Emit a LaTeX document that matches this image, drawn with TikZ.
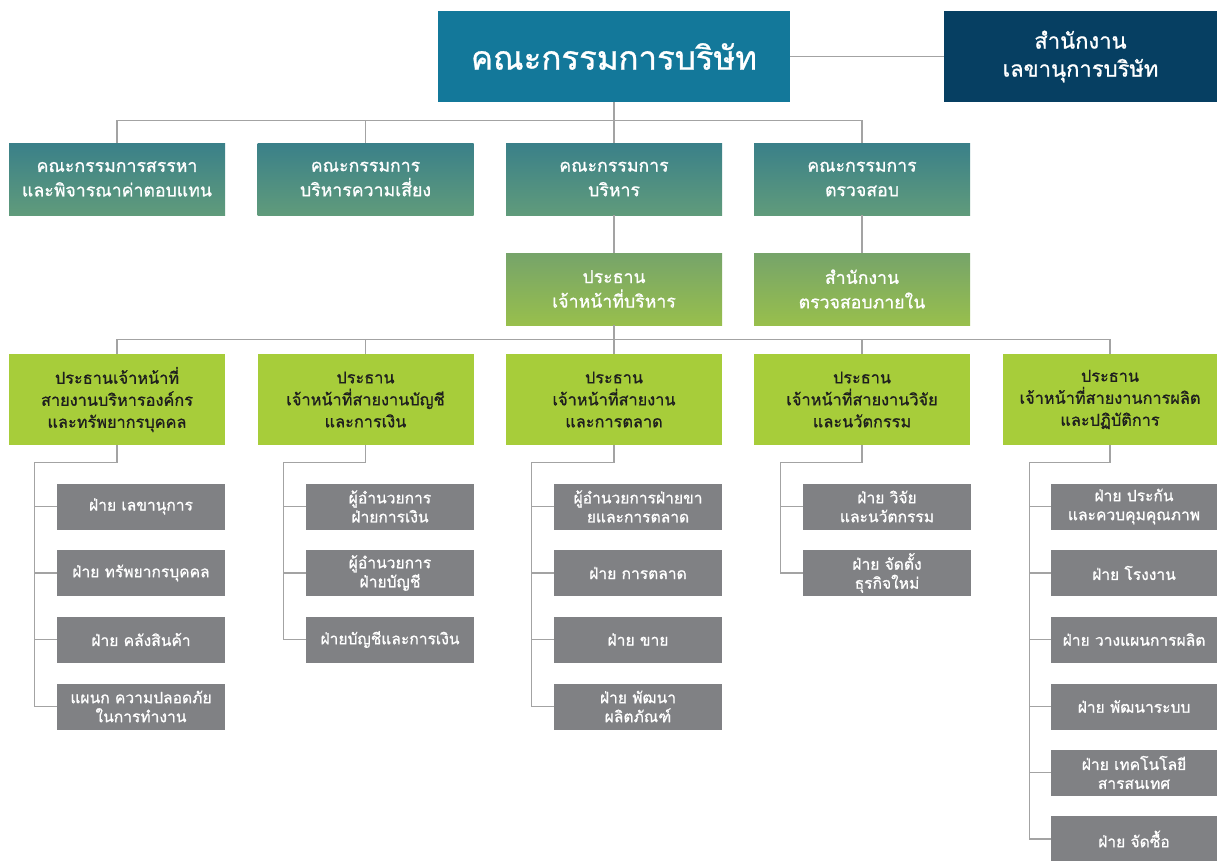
\documentclass[tikz,border=0pt]{standalone}
\usepackage{fontspec}
\newfontfamily\thai[Script=Thai,FakeBold=0.9]{Loma}
\definecolor{topc}{HTML}{13789A}
\definecolor{secc}{HTML}{063F62}
\definecolor{comT}{HTML}{3A8089}
\definecolor{comB}{HTML}{609B7B}
\definecolor{ceoT}{HTML}{76A46A}
\definecolor{ceoB}{HTML}{98BF4C}
\definecolor{vpc}{HTML}{A7CD3A}
\definecolor{deptc}{HTML}{808184}
\definecolor{linec}{HTML}{A3A3A3}
\definecolor{vptext}{HTML}{1E1E1E}
\tikzset{
  box/.style={rectangle, inner sep=0pt, align=center, font=\thai},
  topbox/.style={box, fill=topc, text=white, minimum width=352pt, minimum height=91pt, font=\thai\fontsize{33}{38}\selectfont},
  secbox/.style={box, fill=secc, text=white, minimum width=273pt, minimum height=91pt, font=\thai\fontsize{22}{28}\selectfont},
  combox/.style={box, top color=comT, bottom color=comB, text=white, minimum width=216pt, minimum height=72pt, font=\thai\fontsize{17.7}{24.5}\selectfont},
  ceobox/.style={box, top color=ceoT, bottom color=ceoB, text=white, minimum width=216pt, minimum height=72pt, font=\thai\fontsize{17.7}{24.5}\selectfont},
  vpbox/.style={box, fill=vpc, text=vptext, minimum width=216pt, minimum height=91pt, font=\thai\fontsize{16.3}{22}\selectfont},
  deptbox/.style={box, fill=deptc, text=white, minimum width=168pt, minimum height=46pt, font=\thai\fontsize{15.6}{19}\selectfont},
  conn/.style={draw=linec, line width=1.1pt},
}
\begin{document}
\begin{tikzpicture}[x=1pt,y=-1pt]
\useasboundingbox (0,0) rectangle (1217,860);
% level 1
\node[topbox] (top) at (614,56.5) {คณะกรรมการบริษัท};
\node[secbox] (sec) at (1080.5,56.5) {สำนักงาน\\เลขานุการบริษัท};
% committees
\node[combox] (c1) at (117,179) {คณะกรรมการสรรหา\\และพิจารณาค่าตอบแทน};
\node[combox] (c2) at (365.5,179) {คณะกรรมการ\\บริหารความเสี่ยง};
\node[combox] (c3) at (614,179) {คณะกรรมการ\\บริหาร};
\node[combox] (c4) at (862,179) {คณะกรรมการ\\ตรวจสอบ};
% row 3
\node[ceobox] (ceo) at (614,289) {ประธาน\\เจ้าหน้าที่บริหาร};
\node[ceobox] (aud) at (862,289) {สำนักงาน\\ตรวจสอบภายใน};
% row 4
\node[vpbox] (v1) at (117,399.5) {ประธานเจ้าหน้าที่\\สายงานบริหารองค์กร\\และทรัพยากรบุคคล};
\node[vpbox] (v2) at (365.5,399.5) {ประธาน\\เจ้าหน้าที่สายงานบัญชี\\และการเงิน};
\node[vpbox] (v3) at (614,399.5) {ประธาน\\เจ้าหน้าที่สายงาน\\และการตลาด};
\node[vpbox] (v4) at (862,399.5) {ประธาน\\เจ้าหน้าที่สายงานวิจัย\\และนวัตกรรม};
\node[vpbox, minimum width=214pt] (v5) at (1110,399.5) {ประธาน\\เจ้าหน้าที่สายงานการผลิต\\และปฏิบัติการ};
% departments group 1
\node[deptbox] (d11) at (141,506.5) {ฝ่าย เลขานุการ};
\node[deptbox] (d12) at (141,573) {ฝ่าย ทรัพยากรบุคคล};
\node[deptbox] (d13) at (141,639.5) {ฝ่าย คลังสินค้า};
\node[deptbox] (d14) at (141,706.5) {แผนก ความปลอดภัย\\ในการทำงาน};
% group 2
\node[deptbox] (d21) at (390,506.5) {ผู้อำนวยการ\\ฝ่ายการเงิน};
\node[deptbox] (d22) at (390,573) {ผู้อำนวยการ\\ฝ่ายบัญชี};
\node[deptbox] (d23) at (390,639.5) {ฝ่ายบัญชีและการเงิน};
% group 3
\node[deptbox] (d31) at (638,506.5) {ผู้อำนวยการฝ่ายขา\\ยและการตลาด};
\node[deptbox] (d32) at (638,573) {ฝ่าย การตลาด};
\node[deptbox] (d33) at (638,639.5) {ฝ่าย ขาย};
\node[deptbox] (d34) at (638,706.5) {ฝ่าย พัฒนา\\ผลิตภัณฑ์};
% group 4
\node[deptbox] (d41) at (887,506.5) {ฝ่าย วิจัย\\และนวัตกรรม};
\node[deptbox] (d42) at (887,573) {ฝ่าย จัดตั้ง\\ธุรกิจใหม่};
% group 5
\node[deptbox, minimum width=166pt] (d51) at (1134,506.5) {ฝ่าย ประกัน\\และควบคุมคุณภาพ};
\node[deptbox, minimum width=166pt] (d52) at (1134,573) {ฝ่าย โรงงาน};
\node[deptbox, minimum width=166pt] (d53) at (1134,639.5) {ฝ่าย วางแผนการผลิต};
\node[deptbox, minimum width=166pt] (d54) at (1134,706.5) {ฝ่าย พัฒนาระบบ};
\node[deptbox, minimum width=166pt] (d55) at (1134,772.5) {ฝ่าย เทคโนโลยี\\สารสนเทศ};
\node[deptbox, minimum width=166pt] (d56) at (1134,839) {ฝ่าย จัดซื้อ};
% connectors
\draw[conn] (top.east) -- (sec.west);
\draw[conn] (top.south) -- (c3.north);
\draw[conn] (c1.north) -- ++(0,-22) -| (c4.north);
\draw[conn] (c2.north) -- ++(0,-22);
\draw[conn] (c3.south) -- (ceo.north);
\draw[conn] (c4.south) -- (aud.north);
\draw[conn] (ceo.south) -- (v3.north);
\draw[conn] (v1.north) -- ++(0,-14) -| (v5.north);
\draw[conn] (v2.north) -- ++(0,-14);
\draw[conn] (v4.north) -- ++(0,-14);
% group brackets
\draw[conn] (v1.south) -- ++(0,17.5) -| ([xshift=-22pt]d14.west) -- (d14.west);
\foreach \n in {d11,d12,d13} \draw[conn] (\n.west) -- ++(-22,0);
\draw[conn] (v2.south) -- ++(0,17.5) -| ([xshift=-22pt]d23.west) -- (d23.west);
\foreach \n in {d21,d22} \draw[conn] (\n.west) -- ++(-22,0);
\draw[conn] (v3.south) -- ++(0,17.5) -| ([xshift=-22pt]d34.west) -- (d34.west);
\foreach \n in {d31,d32,d33} \draw[conn] (\n.west) -- ++(-22,0);
\draw[conn] (v4.south) -- ++(0,17.5) -| ([xshift=-22pt]d42.west) -- (d42.west);
\foreach \n in {d41} \draw[conn] (\n.west) -- ++(-22,0);
\draw[conn] (v5.south) -- ++(0,17.5) -| ([xshift=-21pt]d56.west) -- (d56.west);
\foreach \n in {d51,d52,d53,d54,d55} \draw[conn] (\n.west) -- ++(-21,0);
\end{tikzpicture}
\end{document}
